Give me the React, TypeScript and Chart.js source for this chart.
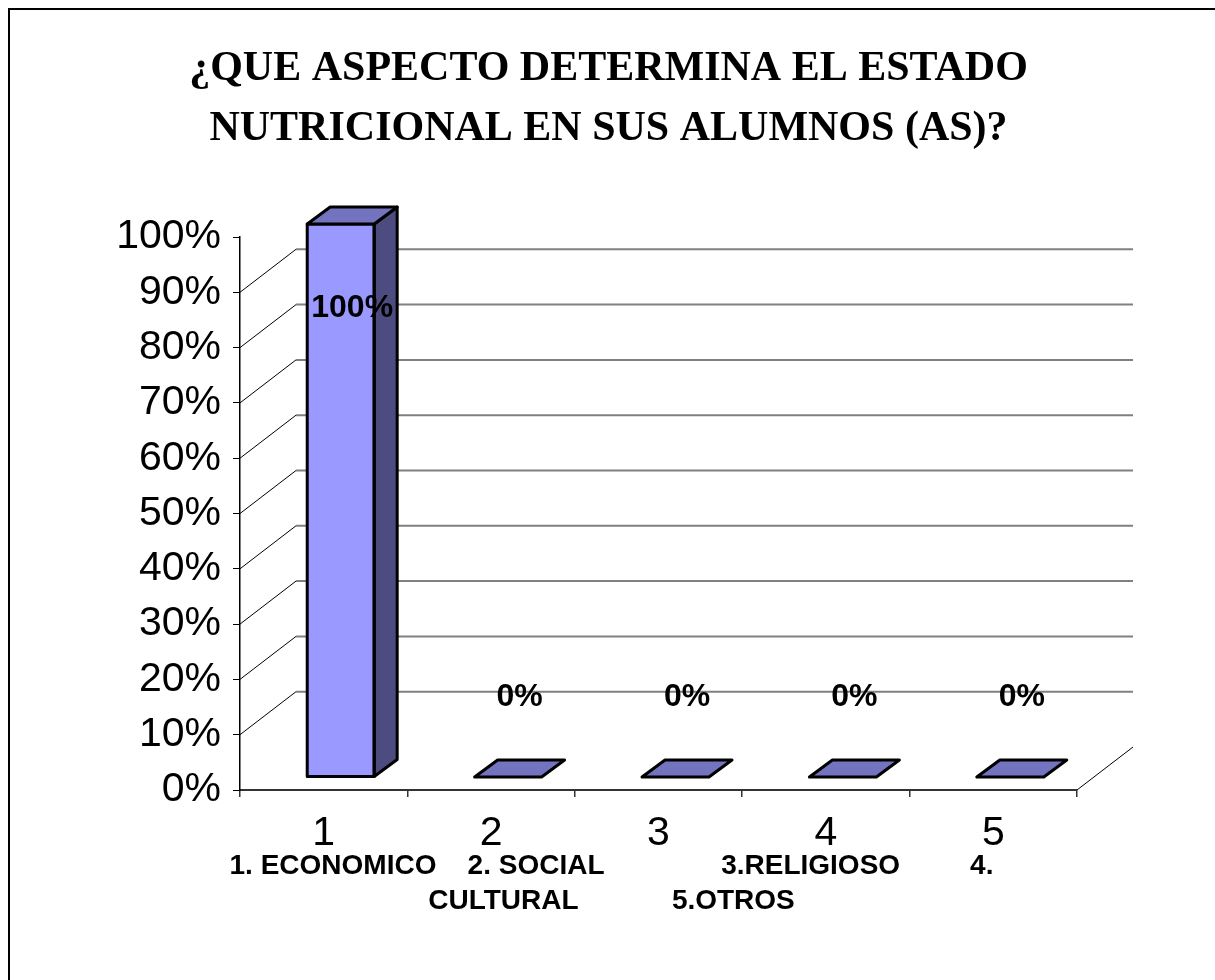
import React, { useEffect, useRef } from 'react';
import { Chart, registerables } from 'chart.js';

Chart.register(...registerables);

// ---- data ----
const titleLines = ['¿QUE ASPECTO DETERMINA EL ESTADO', 'NUTRICIONAL EN SUS ALUMNOS (AS)?'];
const categories = ['1', '2', '3', '4', '5'];
const values = [100, 0, 0, 0, 0];
const valueLabels = ['100%', '0%', '0%', '0%', '0%'];
const yMax = 100;
const yStep = 10;
const captionLines = [
  '1. ECONOMICO    2. SOCIAL' + ' '.repeat(15) + '3.RELIGIOSO' + ' '.repeat(9) + '4.',
  'CULTURAL' + ' '.repeat(12) + '5.OTROS',
];

// ---- geometry / style ----
const W = 1207;
const H = 972;
const WALL = { dx: 56, dy: -43 };
const SHIFT = { dx: 17, dy: -13 };
const DEPTH = { dx: 23, dy: -17 };
const FRONT = '#9999FF';
const TOP = '#7373BF';
const SIDE = '#4C4C80';

function poly(ctx: CanvasRenderingContext2D, pts: number[][], fill: string | null) {
  ctx.beginPath();
  ctx.moveTo(pts[0][0], pts[0][1]);
  for (let i = 1; i < pts.length; i++) ctx.lineTo(pts[i][0], pts[i][1]);
  ctx.closePath();
  if (fill) {
    ctx.fillStyle = fill;
    ctx.fill();
  }
  ctx.stroke();
}

function seg(ctx: CanvasRenderingContext2D, x1: number, y1: number, x2: number, y2: number) {
  ctx.beginPath();
  ctx.moveTo(x1, y1);
  ctx.lineTo(x2, y2);
  ctx.stroke();
}

const threeD = {
  id: 'threeD',
  beforeDatasetsDraw(chart: any) {
    const { ctx, chartArea: a } = chart;
    const y = chart.scales.y;
    ctx.save();
    for (let v = yStep; v < yMax; v += yStep) {
      const py = y.getPixelForValue(v);
      ctx.strokeStyle = '#808080';
      ctx.lineWidth = 2;
      seg(ctx, a.left + WALL.dx, py + WALL.dy, a.right + WALL.dx, py + WALL.dy);
      ctx.strokeStyle = '#000';
      ctx.lineWidth = 1;
      seg(ctx, a.left, py, a.left + WALL.dx, py + WALL.dy);
    }
    ctx.strokeStyle = '#000';
    ctx.lineWidth = 1;
    seg(ctx, a.right, a.bottom, a.right + WALL.dx, a.bottom + WALL.dy);
    ctx.restore();
    ctx.save();
    ctx.translate(SHIFT.dx, SHIFT.dy);
  },
  afterDatasetsDraw(chart: any) {
    const { ctx } = chart;
    ctx.restore();
    const meta = chart.getDatasetMeta(0);
    ctx.save();
    ctx.strokeStyle = '#000';
    ctx.lineWidth = 3;
    ctx.lineJoin = 'round';
    meta.data.forEach((bar: any, i: number) => {
      const { x, y, base, width } = bar.getProps(['x', 'y', 'base', 'width'], true);
      const L = x - width / 2 + SHIFT.dx;
      const R = x + width / 2 + SHIFT.dx;
      const T = y + SHIFT.dy;
      const B = base + SHIFT.dy;
      if (B - T > 0.5) {
        poly(ctx, [[R, T], [R + DEPTH.dx, T + DEPTH.dy], [R + DEPTH.dx, B + DEPTH.dy], [R, B]], SIDE);
        ctx.strokeRect(L, T, R - L, B - T);
      }
      poly(ctx, [[L, T], [R, T], [R + DEPTH.dx, T + DEPTH.dy], [L + DEPTH.dx, T + DEPTH.dy]], TOP);
      ctx.fillStyle = '#000';
      ctx.font = 'bold 32px "Liberation Sans", Arial, sans-serif';
      ctx.textAlign = 'center';
      ctx.textBaseline = 'middle';
      const lx = x + SHIFT.dx + DEPTH.dx / 2;
      const ly = values[i] > 0 ? T + 84 : B - 80;
      ctx.fillText(valueLabels[i], lx, ly);
    });
    ctx.restore();
  },
  afterDraw(chart: any) {
    const { ctx, width } = chart;
    ctx.save();
    ctx.fillStyle = '#000';
    ctx.textAlign = 'center';
    ctx.textBaseline = 'middle';
    ctx.font = 'bold 42px "Liberation Serif", "Times New Roman", serif';
    titleLines.forEach((line, i) => ctx.fillText(line, width / 2 - 3, 61 + i * 60));
    ctx.font = 'bold 28px "Liberation Sans", Arial, sans-serif';
    captionLines.forEach((line, i) => ctx.fillText(line, width / 2, 858 + i * 35));
    ctx.strokeStyle = '#000';
    ctx.lineWidth = 2;
    ctx.strokeRect(1, 1, width + 20, chart.height + 20);
    ctx.restore();
  },
};

export default function App() {
  const ref = useRef<HTMLCanvasElement | null>(null);
  useEffect(() => {
    document.documentElement.style.overflow = 'hidden';
    document.body.style.overflow = 'hidden';
    const canvas = ref.current;
    if (!canvas) return;
    const chart = new Chart(canvas, {
      type: 'bar',
      data: {
        labels: categories,
        datasets: [
          {
            data: values,
            backgroundColor: FRONT,
            borderWidth: 0,
            barPercentage: 0.4,
            categoryPercentage: 1,
            clip: false as any,
          },
        ],
      },
      options: {
        responsive: false,
        animation: false,
        devicePixelRatio: 1,
        layout: { padding: { left: 0, right: 138, top: 229, bottom: 0 } },
        plugins: {
          legend: { display: false },
          tooltip: { enabled: false },
          title: { display: false },
        },
        scales: {
          x: {
            offset: true,
            grid: { display: true, offset: true, drawOnChartArea: false, drawTicks: true, tickLength: 7, color: '#333', lineWidth: 1.5 },
            border: { display: true, color: '#333', width: 2 },
            ticks: { color: '#000', font: { family: '"Liberation Sans", Arial, sans-serif', size: 41 }, padding: 12, maxRotation: 0 },
            afterFit: (s: any) => { s.height = 190; },
          },
          y: {
            min: 0,
            max: yMax,
            ticks: {
              stepSize: yStep,
              color: '#000',
              font: { family: '"Liberation Sans", Arial, sans-serif', size: 41 },
              padding: 12,
              callback: (v: any) => v + '%',
            },
            grid: { display: true, drawOnChartArea: false, drawTicks: true, tickLength: 7, color: '#000', lineWidth: 1 },
            border: { display: true, color: '#000', width: 1.5 },
            afterFit: (s: any) => { s.width = 232; },
          },
        },
      },
      plugins: [threeD],
    });
    return () => chart.destroy();
  }, []);
  return (
    <div style={{ position: 'fixed', left: 8, top: 8, width: W, height: H }}>
      <canvas ref={ref} width={W} height={H} style={{ display: 'block', width: W, height: H }} />
    </div>
  );
}
